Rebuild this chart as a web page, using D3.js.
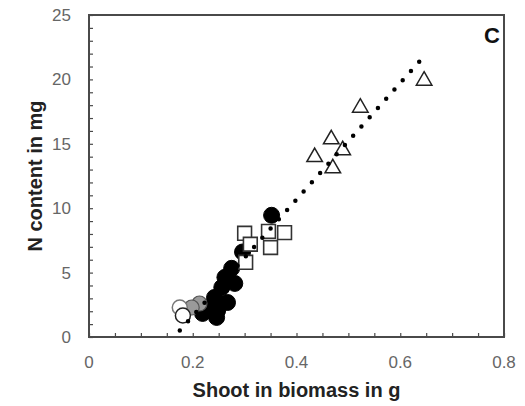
<!DOCTYPE html>
<html>
<head>
<meta charset="utf-8">
<script src="https://cdn.jsdelivr.net/npm/d3@7"></script>
<style>
  html, body { margin: 0; padding: 0; background: #fff; }
  svg { display: block; }
</style>
</head>
<body>
<svg id="chart" width="525" height="406"></svg>
<script>
// Shoot biomass (g) vs N content (mg), panel C

// Black circles
const blackX = [0.352, 0.296, 0.275, 0.262, 0.281, 0.256, 0.242, 0.267, 0.227, 0.248, 0.219, 0.246];
const blackY = [9.45, 6.6, 5.33, 4.63, 4.16, 3.85, 3.07, 2.68, 2.29, 2.06, 1.83, 1.52];

// Grey circles
const greyX = [0.213, 0.198];
const greyY = [2.6, 2.29];

// White circles
const whiteX = [0.175, 0.181];
const whiteY = [2.29, 1.67];

// Open squares
const squareX = [0.300, 0.346, 0.377, 0.350, 0.311, 0.302];
const squareY = [8.05, 8.2, 8.1, 6.95, 7.2, 5.8];

// Open triangles
const triX = [0.646, 0.523, 0.467, 0.435, 0.489, 0.470];
const triY = [19.9, 17.8, 15.35, 13.97, 14.5, 13.1];

// Fitted line end points
const fitX = [0.175, 0.637];
const fitY = [0.5, 21.4];

// Axis ticks
const xTicks = [0, 0.2, 0.4, 0.6, 0.8];
const xTickLabels = ["0", "0.2", "0.4", "0.6", "0.8"];
const yTicks = [0, 5, 10, 15, 20, 25];
const yTickLabels = ["0", "5", "10", "15", "20", "25"];

const xTitle = "Shoot in biomass in g";
const yTitle = "N content in mg";
const panelLabel = "C";

const svg = d3.select("#chart");
const m = { left: 89, right: 504, top: 15, bottom: 337 };

const x = d3.scaleLinear().domain([0, 0.8]).range([m.left, m.right]);
const y = d3.scaleLinear().domain([0, 25]).range([m.bottom, m.top]);

const axisColor = "#4a4a4a";
const labelColor = "#666";
const font = "'Liberation Sans', Arial, sans-serif";

// Minor ticks pointing into the plot
const xMinor = d3.range(0, 0.8001, 0.05);
const yMinor = d3.range(0, 25.001, 1);

const xAxis = d3.axisBottom(x).tickValues(xMinor).tickSizeInner(-4).tickSizeOuter(0).tickFormat("");
const yAxis = d3.axisLeft(y).tickValues(yMinor).tickSizeInner(-4).tickSizeOuter(0).tickFormat("");

const gx = svg.append("g").attr("transform", `translate(0,${m.bottom})`).call(xAxis);
const gy = svg.append("g").attr("transform", `translate(${m.left},0)`).call(yAxis);
[gx, gy].forEach(g => {
  g.select(".domain").remove();
  g.selectAll(".tick line").attr("stroke", axisColor).attr("stroke-width", 1.2);
});

// Frame
svg.append("rect")
  .attr("x", m.left).attr("y", m.top)
  .attr("width", m.right - m.left).attr("height", m.bottom - m.top)
  .attr("fill", "none").attr("stroke", axisColor).attr("stroke-width", 2);

// Tick labels
svg.append("g").selectAll("text").data(xTicks).join("text")
  .attr("x", d => x(d)).attr("y", m.bottom + 31)
  .attr("text-anchor", "middle")
  .attr("font-family", font).attr("font-size", 17).attr("fill", labelColor)
  .text((d, i) => xTickLabels[i]);

svg.append("g").selectAll("text").data(yTicks).join("text")
  .attr("x", m.left - 18).attr("y", d => y(d) + 6)
  .attr("text-anchor", "end")
  .attr("font-family", font).attr("font-size", 17).attr("fill", labelColor)
  .text((d, i) => yTickLabels[i]);

// Axis titles
svg.append("text")
  .attr("x", (m.left + m.right) / 2).attr("y", 397)
  .attr("text-anchor", "middle")
  .attr("font-family", font).attr("font-size", 20).attr("font-weight", "bold").attr("fill", "#222")
  .text(xTitle);

svg.append("text")
  .attr("transform", `translate(42,${(m.top + m.bottom) / 2}) rotate(-90)`)
  .attr("text-anchor", "middle")
  .attr("font-family", font).attr("font-size", 20).attr("font-weight", "bold").attr("fill", "#222")
  .text(yTitle);

svg.append("text")
  .attr("x", 500).attr("y", 43)
  .attr("text-anchor", "end")
  .attr("font-family", font).attr("font-size", 22).attr("font-weight", "bold").attr("fill", "#111")
  .text(panelLabel);

const plot = svg.append("g");

// Circles
plot.selectAll("circle.black").data(d3.zip(blackX, blackY)).join("circle")
  .attr("class", "black")
  .attr("cx", d => x(d[0])).attr("cy", d => y(d[1])).attr("r", 8)
  .attr("fill", "#000").attr("stroke", "#000").attr("stroke-width", 1);

plot.selectAll("circle.grey").data(d3.zip(greyX, greyY)).join("circle")
  .attr("class", "grey")
  .attr("cx", d => x(d[0])).attr("cy", d => y(d[1])).attr("r", 7.5)
  .attr("fill", "#9a9a9a").attr("stroke", "#555").attr("stroke-width", 1.2);

plot.selectAll("circle.white").data(d3.zip(whiteX, whiteY)).join("circle")
  .attr("class", "white")
  .attr("cx", d => x(d[0])).attr("cy", d => y(d[1])).attr("r", 7.5)
  .attr("fill", "#fff").attr("stroke", (d, i) => i === 0 ? "#777" : "#222").attr("stroke-width", 1.5);

// Squares
const sq = d3.symbol().type(d3.symbolSquare).size(190);
plot.selectAll("path.sq").data(d3.zip(squareX, squareY)).join("path")
  .attr("class", "sq")
  .attr("transform", d => `translate(${x(d[0])},${y(d[1])})`)
  .attr("d", sq)
  .attr("fill", "#fff").attr("stroke", "#333").attr("stroke-width", 1.6);

// Triangles
const tri = d3.symbol().type(d3.symbolTriangle).size(105);
plot.selectAll("path.tri").data(d3.zip(triX, triY)).join("path")
  .attr("class", "tri")
  .attr("transform", d => `translate(${x(d[0])},${y(d[1])})`)
  .attr("d", tri)
  .attr("fill", "#fff").attr("stroke", "#222").attr("stroke-width", 1.5);

// Dotted fitted line, dot spacing adjusted so a dot sits on each end
const fitPath = plot.append("path")
  .datum(d3.zip(fitX, fitY))
  .attr("d", d3.line().x(d => x(d[0])).y(d => y(d[1])))
  .attr("fill", "none").attr("stroke", "#000")
  .attr("stroke-width", 4.5).attr("stroke-linecap", "round");
const len = fitPath.node().getTotalLength();
const gap = (len / Math.round(len / 12.5)) * 0.999;
fitPath.attr("stroke-dasharray", `0 ${gap}`);
</script>
</body>
</html>
